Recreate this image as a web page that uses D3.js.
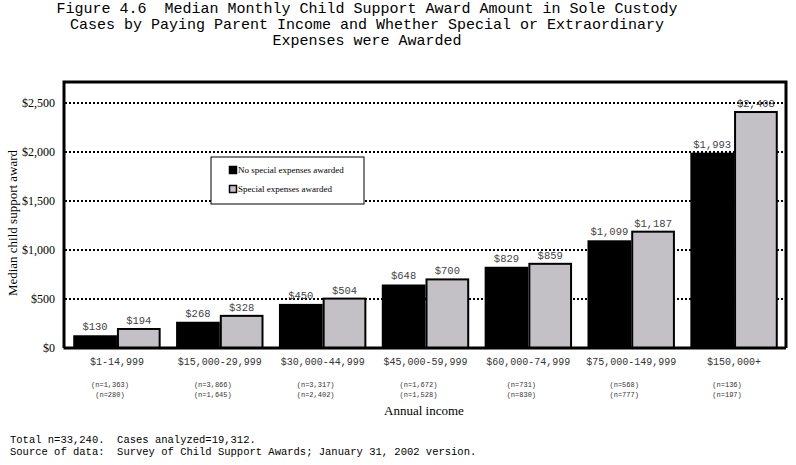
<!DOCTYPE html>
<html>
<head>
<meta charset="utf-8">
<script src="https://cdn.jsdelivr.net/npm/d3@7"></script>
<style>
  body { margin: 0; background: #fff; }
</style>
</head>
<body>
<div class="d3-container"></div>
<script>
const categories = ["$1-14,999", "$15,000-29,999", "$30,000-44,999", "$45,000-59,999",
                    "$60,000-74,999", "$75,000-149,999", "$150,000+"];
const noSpecial = [130, 268, 450, 648, 829, 1099, 1993];
const special = [194, 328, 504, 700, 859, 1187, 2408];
const nNoSpecial = ["(n=1,363)", "(n=3,866)", "(n=3,317)", "(n=1,672)", "(n=731)", "(n=568)", "(n=136)"];
const nSpecial = ["(n=280)", "(n=1,645)", "(n=2,402)", "(n=1,528)", "(n=830)", "(n=777)", "(n=197)"];
const seriesNames = ["No special expenses awarded", "Special expenses awarded"];
const yTicks = [0, 500, 1000, 1500, 2000, 2500];
const titleLines = ["Figure 4.6  Median Monthly Child Support Award Amount in Sole Custody",
                    "Cases by Paying Parent Income and Whether Special or Extraordinary",
                    "Expenses were Awarded"];
const footLines = ["Total n=33,240.  Cases analyzed=19,312.",
                   "Source of data:  Survey of Child Support Awards; January 31, 2002 version."];

const width = 796;
const height = 465;
const margin = {top: 82, bottom: 117, left: 65, right: 10};
const mono = "'Courier New', 'Liberation Mono', monospace";
const serif = "'Times New Roman', 'Liberation Serif', serif";
const grey = "#c3c1c5";

const svg = d3.select(".d3-container")
  .append("svg")
  .attr("width", width)
  .attr("height", height)
  .attr("viewBox", [0, 0, width, height]);

const x = d3.scaleBand()
  .domain(categories)
  .range([margin.left, width - margin.right])
  .paddingInner(0.15)
  .paddingOuter(0.08);

const xs = d3.scaleBand()
  .domain([0, 1])
  .range([0, x.bandwidth()]);

const y = d3.scaleLinear()
  .domain([0, 2500])
  .range([height - margin.bottom, 103]);

const rows = categories.map((c, i) => ({cat: c, vals: [noSpecial[i], special[i]], n: [nNoSpecial[i], nSpecial[i]]}));

// title
svg.append("g")
  .selectAll("text")
  .data(titleLines)
  .join("text")
  .attr("x", 367)
  .attr("y", (d, i) => 13 + i * 16)
  .attr("text-anchor", "middle")
  .attr("font-family", mono)
  .attr("font-size", 15)
  .attr("xml:space", "preserve")
  .style("white-space", "pre")
  .text(d => d);

// dotted gridlines
svg.append("g")
  .selectAll("line")
  .data(yTicks.filter(d => d > 0))
  .join("line")
  .attr("x1", margin.left)
  .attr("x2", width - margin.right)
  .attr("y1", d => y(d))
  .attr("y2", d => y(d))
  .attr("stroke", "black")
  .attr("stroke-width", 2)
  .attr("stroke-dasharray", "2,2");

// legend box (sits behind the bars, over the grid)
const leg = svg.append("g").attr("transform", "translate(211,157)");
leg.append("rect")
  .attr("width", 153)
  .attr("height", 47)
  .attr("fill", "white")
  .attr("stroke", "black")
  .attr("stroke-width", 1);
leg.selectAll("rect.key")
  .data(seriesNames)
  .join("rect")
  .attr("class", "key")
  .attr("x", 18.5)
  .attr("y", (d, i) => 9.5 + i * 19)
  .attr("width", 7)
  .attr("height", 7)
  .attr("fill", (d, i) => i ? grey : "black")
  .attr("stroke", "black")
  .attr("stroke-width", 1.5);
leg.selectAll("text")
  .data(seriesNames)
  .join("text")
  .attr("x", 27)
  .attr("y", (d, i) => 16 + i * 19)
  .attr("font-family", serif)
  .attr("font-size", 9)
  .text(d => d);

// bars
const groups = svg.append("g")
  .selectAll("g")
  .data(rows)
  .join("g")
  .attr("transform", d => `translate(${x(d.cat)},0)`);

groups.selectAll("rect")
  .data(d => d.vals)
  .join("rect")
  .attr("x", (d, i) => xs(i) + (i ? 1 : 0))
  .attr("y", d => y(d))
  .attr("width", (d, i) => xs.bandwidth() - (i ? 2 : 0))
  .attr("height", d => y(0) - y(d))
  .attr("fill", (d, i) => i ? grey : "black")
  .attr("stroke", "black")
  .attr("stroke-width", (d, i) => i ? 2 : 0);

groups.selectAll("text.val")
  .data(d => d.vals)
  .join("text")
  .attr("class", "val")
  .attr("x", (d, i) => xs(i) + xs.bandwidth() / 2)
  .attr("y", d => y(d) - 5)
  .attr("text-anchor", "middle")
  .attr("font-family", mono)
  .attr("font-size", 10.5)
  .attr("fill", "#444")
  .text(d => d3.format("$,")(d));

// n counts under each category
groups.selectAll("text.n")
  .data(d => d.n)
  .join("text")
  .attr("class", "n")
  .attr("x", x.bandwidth() / 2 - 7)
  .attr("y", (d, i) => 387 + i * 10)
  .attr("text-anchor", "middle")
  .attr("font-family", mono)
  .attr("font-size", 7)
  .attr("fill", "#333")
  .text(d => d);

// frame: top and right borders
svg.append("path")
  .attr("d", `M${margin.left},${margin.top}H${width - margin.right}V${y(0)}`)
  .attr("fill", "none")
  .attr("stroke", "black")
  .attr("stroke-width", 3);

function xAxis(g) {
  g.attr("transform", `translate(0,${y(0)})`)
    .call(d3.axisBottom(x).tickSize(0).tickPadding(10).tickSizeOuter(0))
    .call(g => g.select(".domain").attr("stroke-width", 3).attr("d", `M${margin.left - 1.5},0H${width - margin.right}`))
    .call(g => g.selectAll("text").attr("font-family", mono).attr("font-size", 10).attr("fill", "#333"));
}

function yAxis(g) {
  g.attr("transform", `translate(${margin.left - 1},0)`)
    .call(d3.axisLeft(y).tickValues(yTicks).tickSize(0).tickPadding(9).tickFormat(d3.format("$,")))
    .call(g => g.select(".domain").attr("stroke-width", 3).attr("d", `M0,${margin.top - 1.5}V${y(0)}`))
    .call(g => g.selectAll("text").attr("font-family", serif).attr("font-size", 12).attr("fill", "black"));
}

svg.append("g").call(yAxis);
svg.append("g").call(xAxis);

// axis titles
svg.append("text")
  .attr("transform", `translate(17,${(y(0) + margin.top) / 2 + 8}) rotate(-90)`)
  .attr("text-anchor", "middle")
  .attr("font-family", serif)
  .attr("font-size", 13)
  .text("Median child support award");

svg.append("text")
  .attr("x", 424)
  .attr("y", 415)
  .attr("text-anchor", "middle")
  .attr("font-family", serif)
  .attr("font-size", 13)
  .text("Annual income");

// footnote
svg.append("g")
  .selectAll("text")
  .data(footLines)
  .join("text")
  .attr("x", 10)
  .attr("y", (d, i) => 443 + i * 12)
  .attr("font-family", mono)
  .attr("font-size", 10.5)
  .style("white-space", "pre")
  .text(d => d);

svg.node();
</script>
</body>
</html>
